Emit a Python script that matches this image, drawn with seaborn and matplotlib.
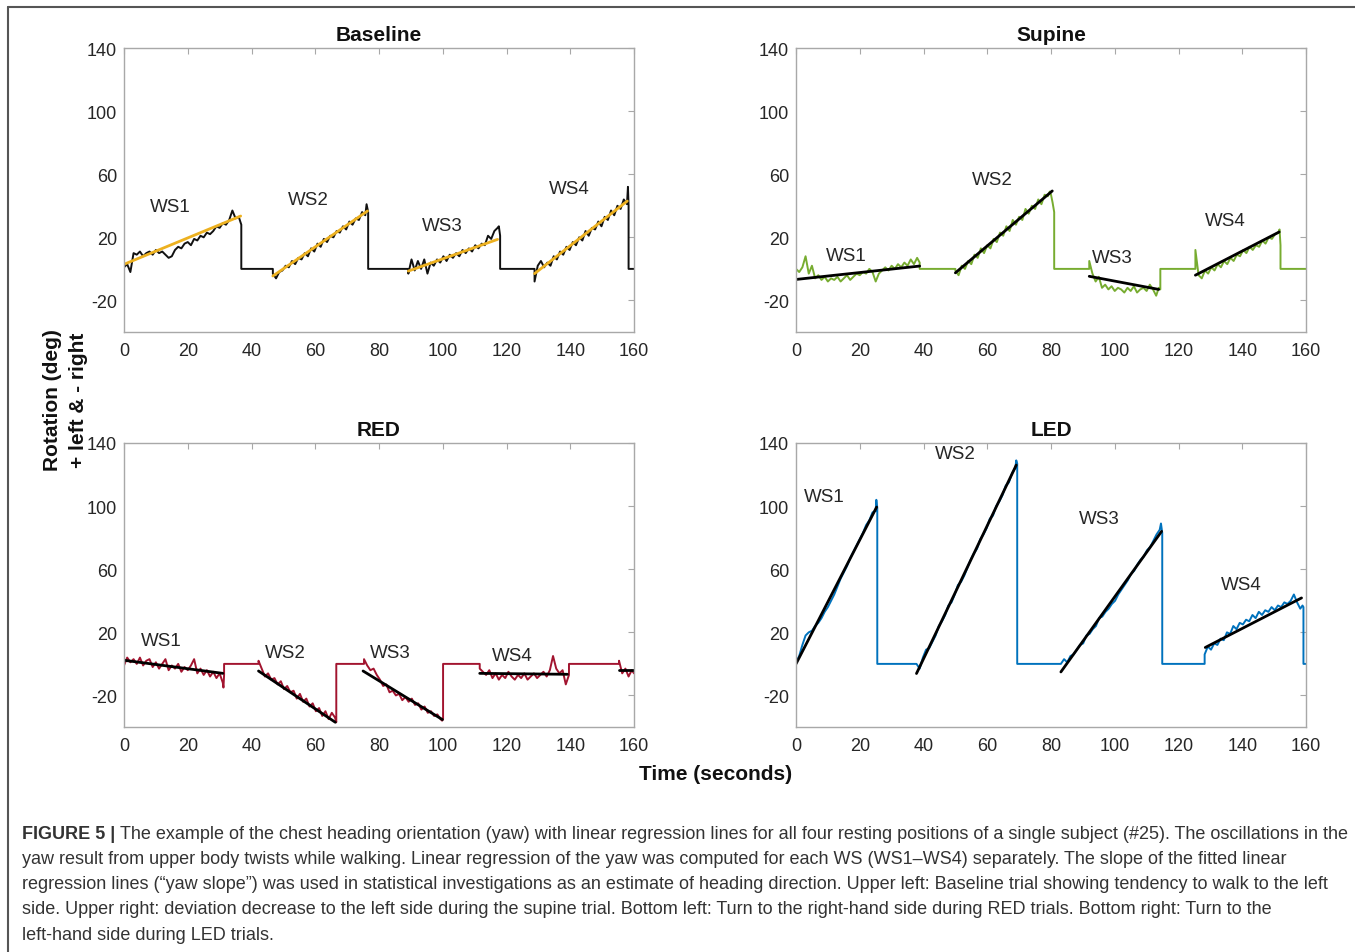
import numpy as np
import pandas as pd
import matplotlib
matplotlib.use("Agg")
import matplotlib.pyplot as plt
import seaborn as sns
from matplotlib.lines import Line2D

# ---------------- data ----------------
PANELS = ["Baseline", "Supine", "RED", "LED"]
X_TICKS = [0, 20, 40, 60, 80, 100, 120, 140, 160]
Y_TICKS = [-20, 20, 60, 100, 140]

# Baseline: walking-segment start times, 1-s samples, tail points before the reset
base_t0 = [0.0, 46.7, 89.2, 128.8]
base_ws1 = [1, 3, -2, 10, 9, 11, 8, 10, 11, 9, 12, 10, 11, 9, 7, 8, 12, 14, 13, 16, 17, 15, 19, 18,
            21, 20, 23, 22, 24, 27, 26, 29, 28, 31, 37, 32, 33]
base_ws2 = [-3, -6, -2, -1, 2, 1, 5, 3, 7, 6, 10, 8, 13, 11, 16, 14, 19, 17, 21, 20, 24, 23, 27, 25,
            30, 28, 32, 31, 36, 34]
base_ws3 = [-3, 6, -1, 5, 0, 6, -3, 4, 2, 6, 4, 8, 5, 9, 7, 10, 8, 12, 10, 13, 11, 15, 13, 16, 15,
            21, 19, 24, 26]
base_ws4 = [-8, 2, 5, 1, 4, 2, 8, 6, 11, 9, 14, 12, 17, 15, 20, 18, 24, 21, 26, 25, 30, 27, 33, 31,
            37, 34, 40, 38, 44, 41]
base_tail_t = [[36.8], [76.1, 76.6], [117.6, 118.0], [158.1, 158.3]]
base_tail_y = [[28], [41, 36], [27, 21], [52, 40]]
base_fit_x0 = [0.0, 46.7, 89.2, 128.8]
base_fit_y0 = [2.9, -4.5, -1.4, -3.0]
base_fit_x1 = [36.6, 76.4, 117.2, 157.9]
base_fit_y1 = [33.5, 36.7, 18.7, 43.0]
base_lab_x = [14.4, 57.9, 99.9, 139.6]
base_lab_y = [39.5, 43.7, 27.6, 50.9]

# Supine
sup_t0 = [0.0, 50.0, 92.0, 125.3]
sup_ws1 = [0, -2, 1, 8, -3, 2, -6, -4, -7, -5, -8, -6, -7, -5, -8, -6, -4, -7, -5, -3, -4, -2, -3, 0,
           -2, -8, -3, -1, 1, -1, 2, 0, 3, 1, 4, 2, 6, 3, 7]
sup_ws2 = [-1, -4, 2, 0, 5, 3, 9, 7, 13, 10, 15, 13, 19, 17, 23, 21, 27, 24, 31, 28, 33, 31, 38, 35,
           40, 38, 44, 41, 47, 46]
sup_ws3 = [5, -3, -8, -5, -12, -10, -13, -11, -14, -12, -13, -15, -12, -14, -11, -15, -13, -12, -14,
           -10, -13, -17]
sup_ws4 = [12, -4, -6, -1, -3, 1, -1, 3, 1, 5, 3, 7, 5, 9, 8, 12, 10, 14, 12, 15, 14, 18, 16, 20, 19,
           22, 23]
sup_tail_t = [[38.8], [79.6, 80.0, 80.5, 81.0], [113.8, 114.3], [151.7, 152.0]]
sup_tail_y = [[4], [49, 47, 42, 36], [-12, -13], [25, 15]]
sup_fit_x0 = [0.0, 50.0, 92.0, 125.3]
sup_fit_y0 = [-6.7, -2.5, -4.7, -4.0]
sup_fit_x1 = [38.8, 80.4, 113.8, 151.6]
sup_fit_y1 = [1.8, 49.4, -13.0, 23.4]
sup_lab_x = [15.8, 61.6, 99.2, 134.8]
sup_lab_y = [8.6, 56.4, 7.1, 30.4]

# RED
red_t0 = [0.0, 42.2, 75.3, 111.6, 155.3]
red_ws1 = [-1, 4, 1, 3, 0, 4, -1, 2, 3, -2, 1, -3, 0, 3, -4, -1, -3, 0, -5, -2, -4, -1, 3, -6, -3,
           -7, -4, -8, -5, -9, -6, -12]
red_ws2 = [2, -3, -8, -6, -10, -9, -13, -11, -16, -14, -18, -17, -22, -19, -24, -22, -27, -25, -30,
           -28, -33, -30, -35, -31, -34]
red_ws3 = [3, -1, -4, -3, -7, -10, -14, -13, -18, -17, -20, -19, -23, -21, -24, -22, -26, -25, -29,
           -27, -31, -30, -33, -32, -35]
red_ws4 = [-3, -5, -7, -4, -9, -6, -10, -7, -9, -5, -8, -10, -7, -9, -6, -10, -8, -6, -9, -7, -5, -8,
           -4, 5, -3, -6, -4, -13]
red_ws5 = [2, -6, -3, -8, -4]
red_tail_t = [[31.2, 31.4], [66.6], [99.8, 100.1], [139.6], [160.0]]
red_tail_y = [[-15, -7], [-37], [-36, -35], [-7], [-6]]
red_fit_x0 = [0.0, 42.2, 75.0, 111.6, 155.3]
red_fit_y0 = [2.3, -4.5, -4.5, -6.0, -3.8]
red_fit_x1 = [31.0, 66.3, 99.9, 139.1, 160.0]
red_fit_y1 = [-6.0, -37.0, -35.3, -6.6, -3.8]
red_lab_x = [11.6, 50.6, 83.7, 121.7]
red_lab_y = [14.7, 7.2, 7.2, 5.1]

# LED
led_t0 = [0.0, 37.8, 83.1, 128.2]
led_ws1 = [1, 5, 12, 18, 20, 21, 24, 26, 29, 33, 36, 40, 44, 49, 54, 58, 62, 67, 71, 75, 79, 83, 88,
           91, 96, 97]
led_ws2 = [0, -3, 4, 9, 10, 14, 18, 24, 27, 31, 37, 39, 44, 50, 52, 56, 61, 66, 70, 73, 79, 82, 86,
           92, 94, 100, 103, 107, 113, 115, 121, 124]
led_ws3 = [0, 3, 1, 5, 6, 9, 12, 13, 18, 19, 22, 24, 29, 30, 33, 35, 38, 40, 44, 47, 50, 53, 57, 59,
           63, 66, 68, 72, 74, 78, 82, 85]
led_ws4 = [6, 11, 9, 13, 12, 16, 15, 20, 19, 24, 22, 26, 25, 28, 27, 31, 29, 33, 31, 34, 33, 36, 34,
           37, 36, 39, 38, 40, 44, 39, 35]
led_tail_t = [[25.2, 25.5], [69.1, 69.4], [114.5, 114.9], [158.9, 159.2]]
led_tail_y = [[104, 99], [129, 127], [89, 83], [37, 36]]
led_fit_x0 = [0.0, 37.8, 83.1, 128.4]
led_fit_y0 = [0.0, -6.1, -5.1, 10.4]
led_fit_x1 = [25.3, 69.1, 114.7, 158.6]
led_fit_y1 = [99.4, 126.0, 84.0, 41.8]
led_lab_x = [8.9, 50.1, 95.1, 139.6]
led_lab_y = [105.8, 133.3, 92.0, 50.0]

WS_LABELS = ["WS1", "WS2", "WS3", "WS4"]

CAPTION_BOLD = "FIGURE 5 |"
CAPTION_LINES = [
    "The example of the chest heading orientation (yaw) with linear regression lines for all four resting positions of a single subject (#25). The oscillations in the",
    "yaw result from upper body twists while walking. Linear regression of the yaw was computed for each WS (WS1\u2013WS4) separately. The slope of the fitted linear",
    "regression lines (\u201cyaw slope\u201d) was used in statistical investigations as an estimate of heading direction. Upper left: Baseline trial showing tendency to walk to the left",
    "side. Upper right: deviation decrease to the left side during the supine trial. Bottom left: Turn to the right-hand side during RED trials. Bottom right: Turn to the",
    "left-hand side during LED trials.",
]


def build_trace(t0s, walks, tail_ts, tail_ys, t_end=160.0):
    t, y = [], []
    last = 0.0
    for t0, vals, tt, ty in zip(t0s, walks, tail_ts, tail_ys):
        if t0 > last:
            t.append(t0)
            y.append(0.0)
        for k, v in enumerate(vals):
            t.append(round(t0 + k, 3))
            y.append(v)
        t.extend(tt)
        y.extend(ty)
        last = tt[-1]
        if last < t_end:
            t.append(last)
            y.append(0.0)
    if last < t_end:
        t.append(t_end)
        y.append(0.0)
    return pd.DataFrame({"t": t, "y": y})


def build_fits(x0, y0, x1, y1):
    rows = []
    for i, (a, b, c, d) in enumerate(zip(x0, y0, x1, y1)):
        rows.append({"seg": i, "t": a, "y": b})
        rows.append({"seg": i, "t": c, "y": d})
    return pd.DataFrame(rows)


panels = {
    "Baseline": dict(
        trace=build_trace(base_t0, [base_ws1, base_ws2, base_ws3, base_ws4], base_tail_t, base_tail_y),
        fits=build_fits(base_fit_x0, base_fit_y0, base_fit_x1, base_fit_y1),
        lab=(base_lab_x, base_lab_y), color="#111111", fit_color="#EDB120"),
    "Supine": dict(
        trace=build_trace(sup_t0, [sup_ws1, sup_ws2, sup_ws3, sup_ws4], sup_tail_t, sup_tail_y),
        fits=build_fits(sup_fit_x0, sup_fit_y0, sup_fit_x1, sup_fit_y1),
        lab=(sup_lab_x, sup_lab_y), color="#77AC30", fit_color="#000000"),
    "RED": dict(
        trace=build_trace(red_t0, [red_ws1, red_ws2, red_ws3, red_ws4, red_ws5], red_tail_t, red_tail_y),
        fits=build_fits(red_fit_x0, red_fit_y0, red_fit_x1, red_fit_y1),
        lab=(red_lab_x, red_lab_y), color="#A2142F", fit_color="#000000"),
    "LED": dict(
        trace=build_trace(led_t0, [led_ws1, led_ws2, led_ws3, led_ws4], led_tail_t, led_tail_y),
        fits=build_fits(led_fit_x0, led_fit_y0, led_fit_x1, led_fit_y1),
        lab=(led_lab_x, led_lab_y), color="#0072BD", fit_color="#000000"),
}

# ---------------- style ----------------
sns.set_theme(style="white")
plt.rcParams["font.family"] = ["Liberation Sans", "DejaVu Sans"]
plt.rcParams["axes.unicode_minus"] = False
SPINE = "#a8a8a8"
TXT = "#262626"

W, H = 1355, 953
fig = plt.figure(figsize=(W / 100, H / 100), dpi=100)
fig.patch.set_facecolor("white")

boxes = {
    "Baseline": (124, 49, 634, 333),
    "Supine": (796, 49, 1306, 333),
    "RED": (124, 444, 634, 728),
    "LED": (796, 444, 1306, 728),
}

for name in PANELS:
    x0p, y0p, x1p, y1p = boxes[name]
    ax = fig.add_axes([x0p / W, 1 - y1p / H, (x1p - x0p) / W, (y1p - y0p) / H])
    p = panels[name]
    sns.lineplot(data=p["trace"], x="t", y="y", ax=ax, color=p["color"], lw=1.4,
                 estimator=None, sort=False, errorbar=None)
    sns.lineplot(data=p["fits"], x="t", y="y", units="seg", ax=ax, color=p["fit_color"],
                 lw=2.0, estimator=None, sort=False, errorbar=None)
    for lbl, lx, ly in zip(WS_LABELS, *p["lab"]):
        ax.text(lx, ly, lbl, ha="center", va="center", fontsize=13.5, color=TXT)
    ax.set_xlim(0, 160)
    ax.set_ylim(-40, 140)
    ax.set_xticks(X_TICKS)
    ax.set_yticks(Y_TICKS)
    ax.set_xlabel("")
    ax.set_ylabel("")
    for s in ax.spines.values():
        s.set_color(SPINE)
        s.set_linewidth(1.0)
    ax.tick_params(direction="in", top=True, right=True, length=4, width=0.8, color=SPINE,
                   labelsize=13, labelcolor=TXT)
    ax.tick_params(axis="y", pad=5)
    ax.tick_params(axis="x", pad=7)
    ax.set_title(name, fontsize=15, fontweight="bold", color="#111111", pad=6)

fig.text(52 / W, 1 - 400 / H, "Rotation (deg)", rotation=90, ha="center", va="center",
         fontsize=15, fontweight="bold", color="#111111")
fig.text(78 / W, 1 - 400 / H, "+ left & - right", rotation=90, ha="center", va="center",
         fontsize=15, fontweight="bold", color="#111111")
fig.text(716 / W, 1 - 775 / H, "Time (seconds)", ha="center", va="center",
         fontsize=15, fontweight="bold", color="#111111")

# frame lines of the figure box
fig.add_artist(Line2D([8 / W, 1.0], [1 - 8 / H, 1 - 8 / H], transform=fig.transFigure,
                      color="#555555", lw=1.5))
fig.add_artist(Line2D([8 / W, 8 / W], [1 - 8 / H, 0.0], transform=fig.transFigure,
                      color="#555555", lw=1.5))

# caption
CAP_FONT = ["Liberation Sans", "DejaVu Sans"]
CAP_SIZE = 12.95
cap_y = [835, 860, 885, 910, 936]
tb = fig.text(22 / W, 1 - cap_y[0] / H, CAPTION_BOLD, ha="left", va="center", fontsize=CAP_SIZE,
              fontweight="bold", color="#333333", family=CAP_FONT)
fig.canvas.draw()
bb = tb.get_window_extent(fig.canvas.get_renderer())
for i, (line, yy) in enumerate(zip(CAPTION_LINES, cap_y)):
    xx = (bb.x1 + 5) / W if i == 0 else 22 / W
    fig.text(xx, 1 - yy / H, line, ha="left", va="center", fontsize=CAP_SIZE, color="#333333",
             family=CAP_FONT)

fig.savefig("out.png", dpi=100)
